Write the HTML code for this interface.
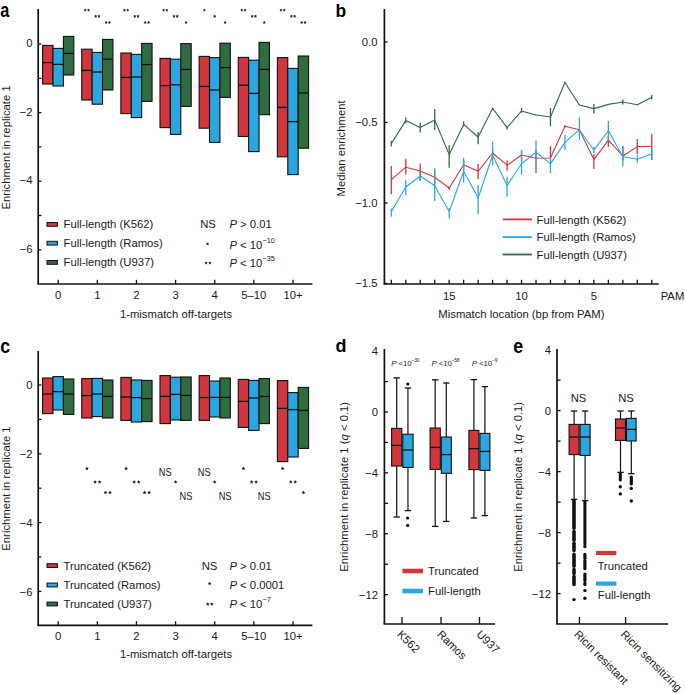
<!DOCTYPE html>
<html><head><meta charset="utf-8"><title>Figure</title>
<style>
html,body{margin:0;padding:0;background:#fff;}
body{width:685px;height:694px;overflow:hidden;}
svg{display:block;font-family:"Liberation Sans", sans-serif;}
</style></head><body>
<svg width="685" height="694" viewBox="0 0 685 694">
<rect width="685" height="694" fill="#fff"/>
<text x="0" y="0" font-size="19.5" font-weight="bold" fill="#000" transform="translate(0.30 16.80) scale(0.84 1)">a</text>
<line x1="38.20" y1="9.00" x2="38.20" y2="284.00" stroke="#111" stroke-width="1.7" stroke-linecap="butt"/>
<line x1="38.20" y1="44.00" x2="41.40" y2="44.00" stroke="#111" stroke-width="1.3" stroke-linecap="butt"/>
<line x1="38.20" y1="78.30" x2="41.40" y2="78.30" stroke="#111" stroke-width="1.3" stroke-linecap="butt"/>
<line x1="38.20" y1="112.60" x2="41.40" y2="112.60" stroke="#111" stroke-width="1.3" stroke-linecap="butt"/>
<line x1="38.20" y1="146.90" x2="41.40" y2="146.90" stroke="#111" stroke-width="1.3" stroke-linecap="butt"/>
<line x1="38.20" y1="181.20" x2="41.40" y2="181.20" stroke="#111" stroke-width="1.3" stroke-linecap="butt"/>
<line x1="38.20" y1="215.50" x2="41.40" y2="215.50" stroke="#111" stroke-width="1.3" stroke-linecap="butt"/>
<line x1="38.20" y1="249.80" x2="41.40" y2="249.80" stroke="#111" stroke-width="1.3" stroke-linecap="butt"/>
<text x="32.50" y="46.95" font-size="11.3" text-anchor="end" font-weight="normal" fill="#1a1a1a"  style="">0</text>
<text x="32.50" y="115.55" font-size="11.3" text-anchor="end" font-weight="normal" fill="#1a1a1a"  style="">&#8722;2</text>
<text x="32.50" y="184.16" font-size="11.3" text-anchor="end" font-weight="normal" fill="#1a1a1a"  style="">&#8722;4</text>
<text x="32.50" y="252.75" font-size="11.3" text-anchor="end" font-weight="normal" fill="#1a1a1a"  style="">&#8722;6</text>
<line x1="37.35" y1="284.00" x2="312.40" y2="284.00" stroke="#111" stroke-width="1.7" stroke-linecap="butt"/>
<line x1="58.20" y1="284.00" x2="58.20" y2="279.80" stroke="#111" stroke-width="1.3" stroke-linecap="butt"/>
<text x="58.20" y="298.75" font-size="11.3" text-anchor="middle" font-weight="normal" fill="#1a1a1a"  style="">0</text>
<line x1="97.33" y1="284.00" x2="97.33" y2="279.80" stroke="#111" stroke-width="1.3" stroke-linecap="butt"/>
<text x="97.33" y="298.75" font-size="11.3" text-anchor="middle" font-weight="normal" fill="#1a1a1a"  style="">1</text>
<line x1="136.46" y1="284.00" x2="136.46" y2="279.80" stroke="#111" stroke-width="1.3" stroke-linecap="butt"/>
<text x="136.46" y="298.75" font-size="11.3" text-anchor="middle" font-weight="normal" fill="#1a1a1a"  style="">2</text>
<line x1="175.59" y1="284.00" x2="175.59" y2="279.80" stroke="#111" stroke-width="1.3" stroke-linecap="butt"/>
<text x="175.59" y="298.75" font-size="11.3" text-anchor="middle" font-weight="normal" fill="#1a1a1a"  style="">3</text>
<line x1="214.72" y1="284.00" x2="214.72" y2="279.80" stroke="#111" stroke-width="1.3" stroke-linecap="butt"/>
<text x="214.72" y="298.75" font-size="11.3" text-anchor="middle" font-weight="normal" fill="#1a1a1a"  style="">4</text>
<line x1="253.85" y1="284.00" x2="253.85" y2="279.80" stroke="#111" stroke-width="1.3" stroke-linecap="butt"/>
<text x="253.85" y="298.75" font-size="11.3" text-anchor="middle" font-weight="normal" fill="#1a1a1a"  style="">5&#8211;10</text>
<line x1="292.98" y1="284.00" x2="292.98" y2="279.80" stroke="#111" stroke-width="1.3" stroke-linecap="butt"/>
<text x="292.98" y="298.75" font-size="11.3" text-anchor="middle" font-weight="normal" fill="#1a1a1a"  style="">10+</text>
<rect x="42.60" y="45.40" width="10.40" height="38.60" fill="#d1363c" stroke="#111" stroke-width="1.1"/>
<line x1="42.60" y1="62.60" x2="53.00" y2="62.60" stroke="#111" stroke-width="1.3" stroke-linecap="butt"/>
<rect x="53.00" y="48.40" width="10.40" height="37.60" fill="#2ba7e0" stroke="#111" stroke-width="1.1"/>
<line x1="53.00" y1="64.40" x2="63.40" y2="64.40" stroke="#111" stroke-width="1.3" stroke-linecap="butt"/>
<rect x="63.40" y="36.40" width="10.40" height="38.60" fill="#2f6c40" stroke="#111" stroke-width="1.1"/>
<line x1="63.40" y1="53.40" x2="73.80" y2="53.40" stroke="#111" stroke-width="1.3" stroke-linecap="butt"/>
<rect x="81.73" y="49.20" width="10.40" height="50.80" fill="#d1363c" stroke="#111" stroke-width="1.1"/>
<line x1="81.73" y1="70.40" x2="92.13" y2="70.40" stroke="#111" stroke-width="1.3" stroke-linecap="butt"/>
<rect x="92.13" y="52.40" width="10.40" height="51.80" fill="#2ba7e0" stroke="#111" stroke-width="1.1"/>
<line x1="92.13" y1="72.00" x2="102.53" y2="72.00" stroke="#111" stroke-width="1.3" stroke-linecap="butt"/>
<rect x="102.53" y="39.40" width="10.40" height="50.60" fill="#2f6c40" stroke="#111" stroke-width="1.1"/>
<line x1="102.53" y1="59.20" x2="112.93" y2="59.20" stroke="#111" stroke-width="1.3" stroke-linecap="butt"/>
<rect x="120.86" y="53.00" width="10.40" height="60.60" fill="#d1363c" stroke="#111" stroke-width="1.1"/>
<line x1="120.86" y1="77.40" x2="131.26" y2="77.40" stroke="#111" stroke-width="1.3" stroke-linecap="butt"/>
<rect x="131.26" y="54.40" width="10.40" height="63.20" fill="#2ba7e0" stroke="#111" stroke-width="1.1"/>
<line x1="131.26" y1="77.00" x2="141.66" y2="77.00" stroke="#111" stroke-width="1.3" stroke-linecap="butt"/>
<rect x="141.66" y="43.40" width="10.40" height="58.00" fill="#2f6c40" stroke="#111" stroke-width="1.1"/>
<line x1="141.66" y1="64.60" x2="152.06" y2="64.60" stroke="#111" stroke-width="1.3" stroke-linecap="butt"/>
<rect x="159.99" y="58.40" width="10.40" height="69.20" fill="#d1363c" stroke="#111" stroke-width="1.1"/>
<line x1="159.99" y1="85.60" x2="170.39" y2="85.60" stroke="#111" stroke-width="1.3" stroke-linecap="butt"/>
<rect x="170.39" y="59.20" width="10.40" height="75.20" fill="#2ba7e0" stroke="#111" stroke-width="1.1"/>
<line x1="170.39" y1="84.80" x2="180.79" y2="84.80" stroke="#111" stroke-width="1.3" stroke-linecap="butt"/>
<rect x="180.79" y="43.60" width="10.40" height="62.80" fill="#2f6c40" stroke="#111" stroke-width="1.1"/>
<line x1="180.79" y1="69.40" x2="191.19" y2="69.40" stroke="#111" stroke-width="1.3" stroke-linecap="butt"/>
<rect x="199.12" y="56.40" width="10.40" height="71.80" fill="#d1363c" stroke="#111" stroke-width="1.1"/>
<line x1="199.12" y1="86.40" x2="209.52" y2="86.40" stroke="#111" stroke-width="1.3" stroke-linecap="butt"/>
<rect x="209.52" y="57.60" width="10.40" height="84.80" fill="#2ba7e0" stroke="#111" stroke-width="1.1"/>
<line x1="209.52" y1="90.00" x2="219.92" y2="90.00" stroke="#111" stroke-width="1.3" stroke-linecap="butt"/>
<rect x="219.92" y="43.20" width="10.40" height="54.20" fill="#2f6c40" stroke="#111" stroke-width="1.1"/>
<line x1="219.92" y1="67.60" x2="230.32" y2="67.60" stroke="#111" stroke-width="1.3" stroke-linecap="butt"/>
<rect x="238.25" y="57.40" width="10.40" height="79.10" fill="#d1363c" stroke="#111" stroke-width="1.1"/>
<line x1="238.25" y1="85.20" x2="248.65" y2="85.20" stroke="#111" stroke-width="1.3" stroke-linecap="butt"/>
<rect x="248.65" y="60.20" width="10.40" height="91.40" fill="#2ba7e0" stroke="#111" stroke-width="1.1"/>
<line x1="248.65" y1="93.40" x2="259.05" y2="93.40" stroke="#111" stroke-width="1.3" stroke-linecap="butt"/>
<rect x="259.05" y="42.40" width="10.40" height="72.30" fill="#2f6c40" stroke="#111" stroke-width="1.1"/>
<line x1="259.05" y1="69.40" x2="269.45" y2="69.40" stroke="#111" stroke-width="1.3" stroke-linecap="butt"/>
<rect x="277.38" y="57.60" width="10.40" height="99.20" fill="#d1363c" stroke="#111" stroke-width="1.1"/>
<line x1="277.38" y1="107.40" x2="287.78" y2="107.40" stroke="#111" stroke-width="1.3" stroke-linecap="butt"/>
<rect x="287.78" y="68.40" width="10.40" height="106.20" fill="#2ba7e0" stroke="#111" stroke-width="1.1"/>
<line x1="287.78" y1="121.60" x2="298.18" y2="121.60" stroke="#111" stroke-width="1.3" stroke-linecap="butt"/>
<rect x="298.18" y="56.00" width="10.40" height="92.20" fill="#2f6c40" stroke="#111" stroke-width="1.1"/>
<line x1="298.18" y1="93.00" x2="308.58" y2="93.00" stroke="#111" stroke-width="1.3" stroke-linecap="butt"/>
<polygon points="85.28,8.40 85.78,9.41 86.90,9.57 86.09,10.36 86.28,11.48 85.28,10.95 84.28,11.48 84.47,10.36 83.66,9.57 84.78,9.41" fill="#222"/>
<polygon points="88.58,8.40 89.08,9.41 90.20,9.57 89.39,10.36 89.58,11.48 88.58,10.95 87.58,11.48 87.77,10.36 86.96,9.57 88.08,9.41" fill="#222"/>
<polygon points="95.68,14.60 96.18,15.61 97.30,15.77 96.49,16.56 96.68,17.68 95.68,17.15 94.68,17.68 94.87,16.56 94.06,15.77 95.18,15.61" fill="#222"/>
<polygon points="98.98,14.60 99.48,15.61 100.60,15.77 99.79,16.56 99.98,17.68 98.98,17.15 97.98,17.68 98.17,16.56 97.36,15.77 98.48,15.61" fill="#222"/>
<polygon points="106.08,20.80 106.58,21.81 107.70,21.97 106.89,22.76 107.08,23.88 106.08,23.35 105.08,23.88 105.27,22.76 104.46,21.97 105.58,21.81" fill="#222"/>
<polygon points="109.38,20.80 109.88,21.81 111.00,21.97 110.19,22.76 110.38,23.88 109.38,23.35 108.38,23.88 108.57,22.76 107.76,21.97 108.88,21.81" fill="#222"/>
<polygon points="124.41,8.40 124.91,9.41 126.03,9.57 125.22,10.36 125.41,11.48 124.41,10.95 123.41,11.48 123.60,10.36 122.79,9.57 123.91,9.41" fill="#222"/>
<polygon points="127.71,8.40 128.21,9.41 129.33,9.57 128.52,10.36 128.71,11.48 127.71,10.95 126.71,11.48 126.90,10.36 126.09,9.57 127.21,9.41" fill="#222"/>
<polygon points="134.81,14.60 135.31,15.61 136.43,15.77 135.62,16.56 135.81,17.68 134.81,17.15 133.81,17.68 134.00,16.56 133.19,15.77 134.31,15.61" fill="#222"/>
<polygon points="138.11,14.60 138.61,15.61 139.73,15.77 138.92,16.56 139.11,17.68 138.11,17.15 137.11,17.68 137.30,16.56 136.49,15.77 137.61,15.61" fill="#222"/>
<polygon points="145.21,20.80 145.71,21.81 146.83,21.97 146.02,22.76 146.21,23.88 145.21,23.35 144.21,23.88 144.40,22.76 143.59,21.97 144.71,21.81" fill="#222"/>
<polygon points="148.51,20.80 149.01,21.81 150.13,21.97 149.32,22.76 149.51,23.88 148.51,23.35 147.51,23.88 147.70,22.76 146.89,21.97 148.01,21.81" fill="#222"/>
<polygon points="163.54,8.40 164.04,9.41 165.16,9.57 164.35,10.36 164.54,11.48 163.54,10.95 162.54,11.48 162.73,10.36 161.92,9.57 163.04,9.41" fill="#222"/>
<polygon points="166.84,8.40 167.34,9.41 168.46,9.57 167.65,10.36 167.84,11.48 166.84,10.95 165.84,11.48 166.03,10.36 165.22,9.57 166.34,9.41" fill="#222"/>
<polygon points="173.94,14.60 174.44,15.61 175.56,15.77 174.75,16.56 174.94,17.68 173.94,17.15 172.94,17.68 173.13,16.56 172.32,15.77 173.44,15.61" fill="#222"/>
<polygon points="177.24,14.60 177.74,15.61 178.86,15.77 178.05,16.56 178.24,17.68 177.24,17.15 176.24,17.68 176.43,16.56 175.62,15.77 176.74,15.61" fill="#222"/>
<polygon points="185.99,20.80 186.49,21.81 187.61,21.97 186.80,22.76 186.99,23.88 185.99,23.35 184.99,23.88 185.18,22.76 184.37,21.97 185.49,21.81" fill="#222"/>
<polygon points="204.32,8.40 204.82,9.41 205.94,9.57 205.13,10.36 205.32,11.48 204.32,10.95 203.32,11.48 203.51,10.36 202.70,9.57 203.82,9.41" fill="#222"/>
<polygon points="214.72,14.60 215.22,15.61 216.34,15.77 215.53,16.56 215.72,17.68 214.72,17.15 213.72,17.68 213.91,16.56 213.10,15.77 214.22,15.61" fill="#222"/>
<polygon points="225.12,20.80 225.62,21.81 226.74,21.97 225.93,22.76 226.12,23.88 225.12,23.35 224.12,23.88 224.31,22.76 223.50,21.97 224.62,21.81" fill="#222"/>
<polygon points="241.80,8.40 242.30,9.41 243.42,9.57 242.61,10.36 242.80,11.48 241.80,10.95 240.80,11.48 240.99,10.36 240.18,9.57 241.30,9.41" fill="#222"/>
<polygon points="245.10,8.40 245.60,9.41 246.72,9.57 245.91,10.36 246.10,11.48 245.10,10.95 244.10,11.48 244.29,10.36 243.48,9.57 244.60,9.41" fill="#222"/>
<polygon points="252.20,14.60 252.70,15.61 253.82,15.77 253.01,16.56 253.20,17.68 252.20,17.15 251.20,17.68 251.39,16.56 250.58,15.77 251.70,15.61" fill="#222"/>
<polygon points="255.50,14.60 256.00,15.61 257.12,15.77 256.31,16.56 256.50,17.68 255.50,17.15 254.50,17.68 254.69,16.56 253.88,15.77 255.00,15.61" fill="#222"/>
<polygon points="264.25,20.80 264.75,21.81 265.87,21.97 265.06,22.76 265.25,23.88 264.25,23.35 263.25,23.88 263.44,22.76 262.63,21.97 263.75,21.81" fill="#222"/>
<polygon points="280.93,8.40 281.43,9.41 282.55,9.57 281.74,10.36 281.93,11.48 280.93,10.95 279.93,11.48 280.12,10.36 279.31,9.57 280.43,9.41" fill="#222"/>
<polygon points="284.23,8.40 284.73,9.41 285.85,9.57 285.04,10.36 285.23,11.48 284.23,10.95 283.23,11.48 283.42,10.36 282.61,9.57 283.73,9.41" fill="#222"/>
<polygon points="291.33,14.60 291.83,15.61 292.95,15.77 292.14,16.56 292.33,17.68 291.33,17.15 290.33,17.68 290.52,16.56 289.71,15.77 290.83,15.61" fill="#222"/>
<polygon points="294.63,14.60 295.13,15.61 296.25,15.77 295.44,16.56 295.63,17.68 294.63,17.15 293.63,17.68 293.82,16.56 293.01,15.77 294.13,15.61" fill="#222"/>
<polygon points="301.73,20.80 302.23,21.81 303.35,21.97 302.54,22.76 302.73,23.88 301.73,23.35 300.73,23.88 300.92,22.76 300.11,21.97 301.23,21.81" fill="#222"/>
<polygon points="305.03,20.80 305.53,21.81 306.65,21.97 305.84,22.76 306.03,23.88 305.03,23.35 304.03,23.88 304.22,22.76 303.41,21.97 304.53,21.81" fill="#222"/>
<rect x="47.00" y="222.50" width="10.40" height="3.80" fill="#d1363c" stroke="#111" stroke-width="1.0"/>
<text x="63.60" y="228.36" font-size="11.3" text-anchor="start" font-weight="normal" fill="#1a1a1a"  style="">Full-length (K562)</text>
<rect x="47.00" y="241.30" width="10.40" height="3.80" fill="#2ba7e0" stroke="#111" stroke-width="1.0"/>
<text x="63.60" y="247.16" font-size="11.3" text-anchor="start" font-weight="normal" fill="#1a1a1a"  style="">Full-length (Ramos)</text>
<rect x="47.00" y="260.50" width="10.40" height="3.80" fill="#2f6c40" stroke="#111" stroke-width="1.0"/>
<text x="63.60" y="266.35" font-size="11.3" text-anchor="start" font-weight="normal" fill="#1a1a1a"  style="">Full-length (U937)</text>
<text x="208.00" y="228.36" font-size="11.3" text-anchor="middle" font-weight="normal" fill="#1a1a1a"  style="">NS</text>
<polygon points="207.60,242.20 208.10,243.31 209.31,243.44 208.41,244.26 208.66,245.46 207.60,244.85 206.54,245.46 206.79,244.26 205.89,243.44 207.10,243.31" fill="#222"/>
<polygon points="206.10,261.20 206.60,262.31 207.81,262.44 206.91,263.26 207.16,264.46 206.10,263.85 205.04,264.46 205.29,263.26 204.39,262.44 205.60,262.31" fill="#222"/>
<polygon points="209.90,261.20 210.40,262.31 211.61,262.44 210.71,263.26 210.96,264.46 209.90,263.85 208.84,264.46 209.09,263.26 208.19,262.44 209.40,262.31" fill="#222"/>
<text x="229.40" y="228.16" font-size="11.3" text-anchor="start" font-weight="normal" fill="#1a1a1a"  style=""><tspan font-style="italic">P</tspan> &gt; 0.01</text>
<text x="229.40" y="249.06" font-size="11.3" text-anchor="start" font-weight="normal" fill="#1a1a1a"  style=""><tspan font-style="italic">P</tspan> &lt; 10<tspan font-size="7.3" dy="-5.7">&#8722;10</tspan></text>
<text x="229.40" y="267.15" font-size="11.3" text-anchor="start" font-weight="normal" fill="#1a1a1a"  style=""><tspan font-style="italic">P</tspan> &lt; 10<tspan font-size="7.3" dy="-5.7">&#8722;35</tspan></text>
<text x="9.60" y="147.45" font-size="11.3" text-anchor="middle" fill="#1a1a1a" transform="rotate(-90 9.60 147.45)">Enrichment in replicate 1</text>
<text x="176.00" y="318.35" font-size="11.3" text-anchor="middle" font-weight="normal" fill="#1a1a1a"  style="">1-mismatch off-targets</text>
<text x="0" y="0" font-size="19.5" font-weight="bold" fill="#000" transform="translate(0.30 353.00) scale(0.91 1)">c</text>
<line x1="38.20" y1="351.00" x2="38.20" y2="625.40" stroke="#111" stroke-width="1.7" stroke-linecap="butt"/>
<line x1="38.20" y1="385.00" x2="41.40" y2="385.00" stroke="#111" stroke-width="1.3" stroke-linecap="butt"/>
<line x1="38.20" y1="419.40" x2="41.40" y2="419.40" stroke="#111" stroke-width="1.3" stroke-linecap="butt"/>
<line x1="38.20" y1="453.80" x2="41.40" y2="453.80" stroke="#111" stroke-width="1.3" stroke-linecap="butt"/>
<line x1="38.20" y1="488.20" x2="41.40" y2="488.20" stroke="#111" stroke-width="1.3" stroke-linecap="butt"/>
<line x1="38.20" y1="522.60" x2="41.40" y2="522.60" stroke="#111" stroke-width="1.3" stroke-linecap="butt"/>
<line x1="38.20" y1="557.00" x2="41.40" y2="557.00" stroke="#111" stroke-width="1.3" stroke-linecap="butt"/>
<line x1="38.20" y1="591.40" x2="41.40" y2="591.40" stroke="#111" stroke-width="1.3" stroke-linecap="butt"/>
<text x="32.50" y="389.15" font-size="11.3" text-anchor="end" font-weight="normal" fill="#1a1a1a"  style="">0</text>
<text x="32.50" y="457.95" font-size="11.3" text-anchor="end" font-weight="normal" fill="#1a1a1a"  style="">&#8722;2</text>
<text x="32.50" y="526.76" font-size="11.3" text-anchor="end" font-weight="normal" fill="#1a1a1a"  style="">&#8722;4</text>
<text x="32.50" y="595.56" font-size="11.3" text-anchor="end" font-weight="normal" fill="#1a1a1a"  style="">&#8722;6</text>
<line x1="37.35" y1="625.40" x2="312.40" y2="625.40" stroke="#111" stroke-width="1.7" stroke-linecap="butt"/>
<line x1="58.20" y1="625.40" x2="58.20" y2="621.20" stroke="#111" stroke-width="1.3" stroke-linecap="butt"/>
<text x="58.20" y="640.15" font-size="11.3" text-anchor="middle" font-weight="normal" fill="#1a1a1a"  style="">0</text>
<line x1="97.33" y1="625.40" x2="97.33" y2="621.20" stroke="#111" stroke-width="1.3" stroke-linecap="butt"/>
<text x="97.33" y="640.15" font-size="11.3" text-anchor="middle" font-weight="normal" fill="#1a1a1a"  style="">1</text>
<line x1="136.46" y1="625.40" x2="136.46" y2="621.20" stroke="#111" stroke-width="1.3" stroke-linecap="butt"/>
<text x="136.46" y="640.15" font-size="11.3" text-anchor="middle" font-weight="normal" fill="#1a1a1a"  style="">2</text>
<line x1="175.59" y1="625.40" x2="175.59" y2="621.20" stroke="#111" stroke-width="1.3" stroke-linecap="butt"/>
<text x="175.59" y="640.15" font-size="11.3" text-anchor="middle" font-weight="normal" fill="#1a1a1a"  style="">3</text>
<line x1="214.72" y1="625.40" x2="214.72" y2="621.20" stroke="#111" stroke-width="1.3" stroke-linecap="butt"/>
<text x="214.72" y="640.15" font-size="11.3" text-anchor="middle" font-weight="normal" fill="#1a1a1a"  style="">4</text>
<line x1="253.85" y1="625.40" x2="253.85" y2="621.20" stroke="#111" stroke-width="1.3" stroke-linecap="butt"/>
<text x="253.85" y="640.15" font-size="11.3" text-anchor="middle" font-weight="normal" fill="#1a1a1a"  style="">5&#8211;10</text>
<line x1="292.98" y1="625.40" x2="292.98" y2="621.20" stroke="#111" stroke-width="1.3" stroke-linecap="butt"/>
<text x="292.98" y="640.15" font-size="11.3" text-anchor="middle" font-weight="normal" fill="#1a1a1a"  style="">10+</text>
<rect x="42.60" y="378.00" width="10.40" height="35.60" fill="#d1363c" stroke="#111" stroke-width="1.1"/>
<line x1="42.60" y1="394.00" x2="53.00" y2="394.00" stroke="#111" stroke-width="1.3" stroke-linecap="butt"/>
<rect x="53.00" y="376.60" width="10.40" height="33.40" fill="#2ba7e0" stroke="#111" stroke-width="1.1"/>
<line x1="53.00" y1="391.60" x2="63.40" y2="391.60" stroke="#111" stroke-width="1.3" stroke-linecap="butt"/>
<rect x="63.40" y="379.00" width="10.40" height="35.40" fill="#2f6c40" stroke="#111" stroke-width="1.1"/>
<line x1="63.40" y1="394.00" x2="73.80" y2="394.00" stroke="#111" stroke-width="1.3" stroke-linecap="butt"/>
<rect x="81.73" y="378.60" width="10.40" height="39.40" fill="#d1363c" stroke="#111" stroke-width="1.1"/>
<line x1="81.73" y1="395.60" x2="92.13" y2="395.60" stroke="#111" stroke-width="1.3" stroke-linecap="butt"/>
<rect x="92.13" y="378.40" width="10.40" height="38.20" fill="#2ba7e0" stroke="#111" stroke-width="1.1"/>
<line x1="92.13" y1="394.00" x2="102.53" y2="394.00" stroke="#111" stroke-width="1.3" stroke-linecap="butt"/>
<rect x="102.53" y="380.00" width="10.40" height="38.00" fill="#2f6c40" stroke="#111" stroke-width="1.1"/>
<line x1="102.53" y1="396.40" x2="112.93" y2="396.40" stroke="#111" stroke-width="1.3" stroke-linecap="butt"/>
<rect x="120.86" y="377.40" width="10.40" height="43.00" fill="#d1363c" stroke="#111" stroke-width="1.1"/>
<line x1="120.86" y1="397.00" x2="131.26" y2="397.00" stroke="#111" stroke-width="1.3" stroke-linecap="butt"/>
<rect x="131.26" y="380.00" width="10.40" height="42.00" fill="#2ba7e0" stroke="#111" stroke-width="1.1"/>
<line x1="131.26" y1="397.60" x2="141.66" y2="397.60" stroke="#111" stroke-width="1.3" stroke-linecap="butt"/>
<rect x="141.66" y="380.40" width="10.40" height="41.20" fill="#2f6c40" stroke="#111" stroke-width="1.1"/>
<line x1="141.66" y1="398.60" x2="152.06" y2="398.60" stroke="#111" stroke-width="1.3" stroke-linecap="butt"/>
<rect x="159.99" y="375.60" width="10.40" height="48.00" fill="#d1363c" stroke="#111" stroke-width="1.1"/>
<line x1="159.99" y1="396.40" x2="170.39" y2="396.40" stroke="#111" stroke-width="1.3" stroke-linecap="butt"/>
<rect x="170.39" y="377.20" width="10.40" height="42.80" fill="#2ba7e0" stroke="#111" stroke-width="1.1"/>
<line x1="170.39" y1="394.40" x2="180.79" y2="394.40" stroke="#111" stroke-width="1.3" stroke-linecap="butt"/>
<rect x="180.79" y="377.00" width="10.40" height="43.40" fill="#2f6c40" stroke="#111" stroke-width="1.1"/>
<line x1="180.79" y1="395.40" x2="191.19" y2="395.40" stroke="#111" stroke-width="1.3" stroke-linecap="butt"/>
<rect x="199.12" y="375.60" width="10.40" height="44.80" fill="#d1363c" stroke="#111" stroke-width="1.1"/>
<line x1="199.12" y1="397.60" x2="209.52" y2="397.60" stroke="#111" stroke-width="1.3" stroke-linecap="butt"/>
<rect x="209.52" y="381.00" width="10.40" height="36.00" fill="#2ba7e0" stroke="#111" stroke-width="1.1"/>
<line x1="209.52" y1="397.40" x2="219.92" y2="397.40" stroke="#111" stroke-width="1.3" stroke-linecap="butt"/>
<rect x="219.92" y="378.00" width="10.40" height="40.00" fill="#2f6c40" stroke="#111" stroke-width="1.1"/>
<line x1="219.92" y1="397.40" x2="230.32" y2="397.40" stroke="#111" stroke-width="1.3" stroke-linecap="butt"/>
<rect x="238.25" y="379.40" width="10.40" height="48.00" fill="#d1363c" stroke="#111" stroke-width="1.1"/>
<line x1="238.25" y1="401.40" x2="248.65" y2="401.40" stroke="#111" stroke-width="1.3" stroke-linecap="butt"/>
<rect x="248.65" y="380.40" width="10.40" height="50.00" fill="#2ba7e0" stroke="#111" stroke-width="1.1"/>
<line x1="248.65" y1="398.00" x2="259.05" y2="398.00" stroke="#111" stroke-width="1.3" stroke-linecap="butt"/>
<rect x="259.05" y="378.60" width="10.40" height="45.00" fill="#2f6c40" stroke="#111" stroke-width="1.1"/>
<line x1="259.05" y1="396.40" x2="269.45" y2="396.40" stroke="#111" stroke-width="1.3" stroke-linecap="butt"/>
<rect x="277.38" y="380.60" width="10.40" height="81.00" fill="#d1363c" stroke="#111" stroke-width="1.1"/>
<line x1="277.38" y1="408.40" x2="287.78" y2="408.40" stroke="#111" stroke-width="1.3" stroke-linecap="butt"/>
<rect x="287.78" y="392.60" width="10.40" height="64.40" fill="#2ba7e0" stroke="#111" stroke-width="1.1"/>
<line x1="287.78" y1="409.60" x2="298.18" y2="409.60" stroke="#111" stroke-width="1.3" stroke-linecap="butt"/>
<rect x="298.18" y="387.40" width="10.40" height="61.00" fill="#2f6c40" stroke="#111" stroke-width="1.1"/>
<line x1="298.18" y1="410.40" x2="308.58" y2="410.40" stroke="#111" stroke-width="1.3" stroke-linecap="butt"/>
<polygon points="86.93,466.60 87.49,467.83 88.83,467.98 87.83,468.89 88.11,470.22 86.93,469.55 85.75,470.22 86.03,468.89 85.03,467.98 86.37,467.83" fill="#222"/>
<polygon points="95.08,480.00 95.64,481.23 96.98,481.38 95.98,482.29 96.26,483.62 95.08,482.95 93.90,483.62 94.18,482.29 93.18,481.38 94.52,481.23" fill="#222"/>
<polygon points="99.58,480.00 100.14,481.23 101.48,481.38 100.48,482.29 100.76,483.62 99.58,482.95 98.40,483.62 98.68,482.29 97.68,481.38 99.02,481.23" fill="#222"/>
<polygon points="105.48,490.60 106.04,491.83 107.38,491.98 106.38,492.89 106.66,494.22 105.48,493.55 104.30,494.22 104.58,492.89 103.58,491.98 104.92,491.83" fill="#222"/>
<polygon points="109.98,490.60 110.54,491.83 111.88,491.98 110.88,492.89 111.16,494.22 109.98,493.55 108.80,494.22 109.08,492.89 108.08,491.98 109.42,491.83" fill="#222"/>
<polygon points="126.06,466.60 126.62,467.83 127.96,467.98 126.96,468.89 127.24,470.22 126.06,469.55 124.88,470.22 125.16,468.89 124.16,467.98 125.50,467.83" fill="#222"/>
<polygon points="134.21,480.00 134.77,481.23 136.11,481.38 135.11,482.29 135.39,483.62 134.21,482.95 133.03,483.62 133.31,482.29 132.31,481.38 133.65,481.23" fill="#222"/>
<polygon points="138.71,480.00 139.27,481.23 140.61,481.38 139.61,482.29 139.89,483.62 138.71,482.95 137.53,483.62 137.81,482.29 136.81,481.38 138.15,481.23" fill="#222"/>
<polygon points="144.61,490.60 145.17,491.83 146.51,491.98 145.51,492.89 145.79,494.22 144.61,493.55 143.43,494.22 143.71,492.89 142.71,491.98 144.05,491.83" fill="#222"/>
<polygon points="149.11,490.60 149.67,491.83 151.01,491.98 150.01,492.89 150.29,494.22 149.11,493.55 147.93,494.22 148.21,492.89 147.21,491.98 148.55,491.83" fill="#222"/>
<text x="165.19" y="476.38" font-size="10.8" text-anchor="middle" font-weight="normal" fill="#1a1a1a" textLength="12.9" lengthAdjust="spacingAndGlyphs" style="">NS</text>
<polygon points="175.59,480.00 176.15,481.23 177.49,481.38 176.49,482.29 176.77,483.62 175.59,482.95 174.41,483.62 174.69,482.29 173.69,481.38 175.03,481.23" fill="#222"/>
<text x="185.99" y="500.38" font-size="10.8" text-anchor="middle" font-weight="normal" fill="#1a1a1a" textLength="12.9" lengthAdjust="spacingAndGlyphs" style="">NS</text>
<text x="204.32" y="476.38" font-size="10.8" text-anchor="middle" font-weight="normal" fill="#1a1a1a" textLength="12.9" lengthAdjust="spacingAndGlyphs" style="">NS</text>
<polygon points="214.72,480.00 215.28,481.23 216.62,481.38 215.62,482.29 215.90,483.62 214.72,482.95 213.54,483.62 213.82,482.29 212.82,481.38 214.16,481.23" fill="#222"/>
<text x="225.12" y="500.38" font-size="10.8" text-anchor="middle" font-weight="normal" fill="#1a1a1a" textLength="12.9" lengthAdjust="spacingAndGlyphs" style="">NS</text>
<polygon points="243.45,466.60 244.01,467.83 245.35,467.98 244.35,468.89 244.63,470.22 243.45,469.55 242.27,470.22 242.55,468.89 241.55,467.98 242.89,467.83" fill="#222"/>
<polygon points="251.60,480.00 252.16,481.23 253.50,481.38 252.50,482.29 252.78,483.62 251.60,482.95 250.42,483.62 250.70,482.29 249.70,481.38 251.04,481.23" fill="#222"/>
<polygon points="256.10,480.00 256.66,481.23 258.00,481.38 257.00,482.29 257.28,483.62 256.10,482.95 254.92,483.62 255.20,482.29 254.20,481.38 255.54,481.23" fill="#222"/>
<text x="264.25" y="500.38" font-size="10.8" text-anchor="middle" font-weight="normal" fill="#1a1a1a" textLength="12.9" lengthAdjust="spacingAndGlyphs" style="">NS</text>
<polygon points="282.58,466.60 283.14,467.83 284.48,467.98 283.48,468.89 283.76,470.22 282.58,469.55 281.40,470.22 281.68,468.89 280.68,467.98 282.02,467.83" fill="#222"/>
<polygon points="290.73,480.00 291.29,481.23 292.63,481.38 291.63,482.29 291.91,483.62 290.73,482.95 289.55,483.62 289.83,482.29 288.83,481.38 290.17,481.23" fill="#222"/>
<polygon points="295.23,480.00 295.79,481.23 297.13,481.38 296.13,482.29 296.41,483.62 295.23,482.95 294.05,483.62 294.33,482.29 293.33,481.38 294.67,481.23" fill="#222"/>
<polygon points="303.38,490.60 303.94,491.83 305.28,491.98 304.28,492.89 304.56,494.22 303.38,493.55 302.20,494.22 302.48,492.89 301.48,491.98 302.82,491.83" fill="#222"/>
<rect x="47.00" y="563.70" width="10.40" height="3.80" fill="#d1363c" stroke="#111" stroke-width="1.0"/>
<text x="63.60" y="569.56" font-size="11.3" text-anchor="start" font-weight="normal" fill="#1a1a1a"  style="">Truncated (K562)</text>
<rect x="47.00" y="583.10" width="10.40" height="3.80" fill="#2ba7e0" stroke="#111" stroke-width="1.0"/>
<text x="63.60" y="588.96" font-size="11.3" text-anchor="start" font-weight="normal" fill="#1a1a1a"  style="">Truncated (Ramos)</text>
<rect x="47.00" y="602.10" width="10.40" height="3.80" fill="#2f6c40" stroke="#111" stroke-width="1.0"/>
<text x="63.60" y="607.96" font-size="11.3" text-anchor="start" font-weight="normal" fill="#1a1a1a"  style="">Truncated (U937)</text>
<text x="209.50" y="569.56" font-size="11.3" text-anchor="middle" font-weight="normal" fill="#1a1a1a"  style="">NS</text>
<polygon points="209.60,581.70 210.13,582.87 211.41,583.01 210.46,583.88 210.72,585.14 209.60,584.50 208.48,585.14 208.74,583.88 207.79,583.01 209.07,582.87" fill="#222"/>
<polygon points="207.80,602.20 208.33,603.37 209.61,603.51 208.66,604.38 208.92,605.64 207.80,605.00 206.68,605.64 206.94,604.38 205.99,603.51 207.27,603.37" fill="#222"/>
<polygon points="211.80,602.20 212.33,603.37 213.61,603.51 212.66,604.38 212.92,605.64 211.80,605.00 210.68,605.64 210.94,604.38 209.99,603.51 211.27,603.37" fill="#222"/>
<text x="229.40" y="569.56" font-size="11.3" text-anchor="start" font-weight="normal" fill="#1a1a1a"  style=""><tspan font-style="italic">P</tspan> &gt; 0.01</text>
<text x="229.40" y="588.96" font-size="11.3" text-anchor="start" font-weight="normal" fill="#1a1a1a"  style=""><tspan font-style="italic">P</tspan> &lt; 0.0001</text>
<text x="229.40" y="607.96" font-size="11.3" text-anchor="start" font-weight="normal" fill="#1a1a1a"  style=""><tspan font-style="italic">P</tspan> &lt; 10<tspan font-size="7.3" dy="-5.7">&#8722;7</tspan></text>
<text x="9.70" y="488.55" font-size="11.3" text-anchor="middle" fill="#1a1a1a" transform="rotate(-90 9.70 488.55)">Enrichment in replicate 1</text>
<text x="176.00" y="658.36" font-size="11.3" text-anchor="middle" font-weight="normal" fill="#1a1a1a"  style="">1-mismatch off-targets</text>
<text x="0" y="0" font-size="18" font-weight="bold" fill="#000" transform="translate(335.50 16.70) scale(0.97 1)">b</text>
<line x1="384.40" y1="9.00" x2="384.40" y2="284.00" stroke="#111" stroke-width="1.7" stroke-linecap="butt"/>
<line x1="383.55" y1="284.00" x2="658.80" y2="284.00" stroke="#111" stroke-width="1.7" stroke-linecap="butt"/>
<line x1="384.40" y1="42.00" x2="387.60" y2="42.00" stroke="#111" stroke-width="1.3" stroke-linecap="butt"/>
<text x="377.50" y="45.95" font-size="11.3" text-anchor="end" font-weight="normal" fill="#1a1a1a"  style="">0.0</text>
<line x1="384.40" y1="122.50" x2="387.60" y2="122.50" stroke="#111" stroke-width="1.3" stroke-linecap="butt"/>
<text x="377.50" y="126.45" font-size="11.3" text-anchor="end" font-weight="normal" fill="#1a1a1a"  style="">&#8722;0.5</text>
<line x1="384.40" y1="203.00" x2="387.60" y2="203.00" stroke="#111" stroke-width="1.3" stroke-linecap="butt"/>
<text x="377.50" y="206.96" font-size="11.3" text-anchor="end" font-weight="normal" fill="#1a1a1a"  style="">&#8722;1.0</text>
<line x1="384.40" y1="283.50" x2="387.60" y2="283.50" stroke="#111" stroke-width="1.3" stroke-linecap="butt"/>
<text x="377.50" y="287.45" font-size="11.3" text-anchor="end" font-weight="normal" fill="#1a1a1a"  style="">&#8722;1.5</text>
<line x1="391.30" y1="284.00" x2="391.30" y2="279.80" stroke="#111" stroke-width="1.3" stroke-linecap="butt"/>
<line x1="405.77" y1="284.00" x2="405.77" y2="279.80" stroke="#111" stroke-width="1.3" stroke-linecap="butt"/>
<line x1="420.24" y1="284.00" x2="420.24" y2="279.80" stroke="#111" stroke-width="1.3" stroke-linecap="butt"/>
<line x1="434.71" y1="284.00" x2="434.71" y2="279.80" stroke="#111" stroke-width="1.3" stroke-linecap="butt"/>
<line x1="449.18" y1="284.00" x2="449.18" y2="279.80" stroke="#111" stroke-width="1.3" stroke-linecap="butt"/>
<line x1="463.65" y1="284.00" x2="463.65" y2="279.80" stroke="#111" stroke-width="1.3" stroke-linecap="butt"/>
<line x1="478.12" y1="284.00" x2="478.12" y2="279.80" stroke="#111" stroke-width="1.3" stroke-linecap="butt"/>
<line x1="492.59" y1="284.00" x2="492.59" y2="279.80" stroke="#111" stroke-width="1.3" stroke-linecap="butt"/>
<line x1="507.06" y1="284.00" x2="507.06" y2="279.80" stroke="#111" stroke-width="1.3" stroke-linecap="butt"/>
<line x1="521.53" y1="284.00" x2="521.53" y2="279.80" stroke="#111" stroke-width="1.3" stroke-linecap="butt"/>
<line x1="536.00" y1="284.00" x2="536.00" y2="279.80" stroke="#111" stroke-width="1.3" stroke-linecap="butt"/>
<line x1="550.47" y1="284.00" x2="550.47" y2="279.80" stroke="#111" stroke-width="1.3" stroke-linecap="butt"/>
<line x1="564.94" y1="284.00" x2="564.94" y2="279.80" stroke="#111" stroke-width="1.3" stroke-linecap="butt"/>
<line x1="579.41" y1="284.00" x2="579.41" y2="279.80" stroke="#111" stroke-width="1.3" stroke-linecap="butt"/>
<line x1="593.88" y1="284.00" x2="593.88" y2="279.80" stroke="#111" stroke-width="1.3" stroke-linecap="butt"/>
<line x1="608.35" y1="284.00" x2="608.35" y2="279.80" stroke="#111" stroke-width="1.3" stroke-linecap="butt"/>
<line x1="622.82" y1="284.00" x2="622.82" y2="279.80" stroke="#111" stroke-width="1.3" stroke-linecap="butt"/>
<line x1="637.29" y1="284.00" x2="637.29" y2="279.80" stroke="#111" stroke-width="1.3" stroke-linecap="butt"/>
<line x1="651.76" y1="284.00" x2="651.76" y2="279.80" stroke="#111" stroke-width="1.3" stroke-linecap="butt"/>
<text x="449.18" y="299.95" font-size="11.3" text-anchor="middle" font-weight="normal" fill="#1a1a1a"  style="">15</text>
<text x="521.53" y="299.95" font-size="11.3" text-anchor="middle" font-weight="normal" fill="#1a1a1a"  style="">10</text>
<text x="593.88" y="299.95" font-size="11.3" text-anchor="middle" font-weight="normal" fill="#1a1a1a"  style="">5</text>
<text x="672.50" y="299.95" font-size="11.3" text-anchor="middle" font-weight="normal" fill="#1a1a1a"  style="">PAM</text>
<text x="521.40" y="318.15" font-size="11.3" text-anchor="middle" font-weight="normal" fill="#1a1a1a"  style="">Mismatch location (bp from PAM)</text>
<text x="344.60" y="148.35" font-size="11.3" text-anchor="middle" fill="#1a1a1a" transform="rotate(-90 344.60 148.35)">Median enrichment</text>
<line x1="391.30" y1="141.00" x2="391.30" y2="146.50" stroke="#2f6c40" stroke-width="1.3" stroke-linecap="butt"/>
<line x1="405.77" y1="117.60" x2="405.77" y2="123.60" stroke="#2f6c40" stroke-width="1.3" stroke-linecap="butt"/>
<line x1="420.24" y1="123.00" x2="420.24" y2="132.40" stroke="#2f6c40" stroke-width="1.3" stroke-linecap="butt"/>
<line x1="434.71" y1="109.00" x2="434.71" y2="130.00" stroke="#2f6c40" stroke-width="1.3" stroke-linecap="butt"/>
<line x1="449.18" y1="145.20" x2="449.18" y2="167.70" stroke="#2f6c40" stroke-width="1.3" stroke-linecap="butt"/>
<line x1="463.65" y1="121.40" x2="463.65" y2="126.40" stroke="#2f6c40" stroke-width="1.3" stroke-linecap="butt"/>
<line x1="478.12" y1="132.00" x2="478.12" y2="144.30" stroke="#2f6c40" stroke-width="1.3" stroke-linecap="butt"/>
<line x1="492.59" y1="107.80" x2="492.59" y2="109.00" stroke="#2f6c40" stroke-width="1.3" stroke-linecap="butt"/>
<line x1="507.06" y1="126.40" x2="507.06" y2="129.60" stroke="#2f6c40" stroke-width="1.3" stroke-linecap="butt"/>
<line x1="521.53" y1="108.00" x2="521.53" y2="112.80" stroke="#2f6c40" stroke-width="1.3" stroke-linecap="butt"/>
<line x1="536.00" y1="114.60" x2="536.00" y2="115.40" stroke="#2f6c40" stroke-width="1.3" stroke-linecap="butt"/>
<line x1="550.47" y1="108.00" x2="550.47" y2="126.30" stroke="#2f6c40" stroke-width="1.3" stroke-linecap="butt"/>
<line x1="564.94" y1="81.50" x2="564.94" y2="83.50" stroke="#2f6c40" stroke-width="1.3" stroke-linecap="butt"/>
<line x1="579.41" y1="104.60" x2="579.41" y2="105.40" stroke="#2f6c40" stroke-width="1.3" stroke-linecap="butt"/>
<line x1="593.88" y1="104.00" x2="593.88" y2="113.60" stroke="#2f6c40" stroke-width="1.3" stroke-linecap="butt"/>
<line x1="608.35" y1="104.00" x2="608.35" y2="104.80" stroke="#2f6c40" stroke-width="1.3" stroke-linecap="butt"/>
<line x1="622.82" y1="99.60" x2="622.82" y2="104.40" stroke="#2f6c40" stroke-width="1.3" stroke-linecap="butt"/>
<line x1="637.29" y1="104.40" x2="637.29" y2="105.20" stroke="#2f6c40" stroke-width="1.3" stroke-linecap="butt"/>
<line x1="651.76" y1="95.00" x2="651.76" y2="99.60" stroke="#2f6c40" stroke-width="1.3" stroke-linecap="butt"/>
<polyline points="391.3,143.6 405.8,120.6 420.2,127.4 434.7,120.0 449.2,154.6 463.7,124.4 478.1,137.0 492.6,108.4 507.1,127.6 521.5,111.0 536.0,115.0 550.5,117.0 564.9,82.5 579.4,105.0 593.9,108.6 608.4,104.4 622.8,102.0 637.3,104.8 651.8,97.2" fill="none" stroke="#2f6c40" stroke-width="1.1" stroke-linejoin="round"/>
<line x1="391.30" y1="166.00" x2="391.30" y2="194.20" stroke="#d1363c" stroke-width="1.3" stroke-linecap="butt"/>
<line x1="405.77" y1="159.00" x2="405.77" y2="174.60" stroke="#d1363c" stroke-width="1.3" stroke-linecap="butt"/>
<line x1="420.24" y1="163.60" x2="420.24" y2="181.00" stroke="#d1363c" stroke-width="1.3" stroke-linecap="butt"/>
<line x1="434.71" y1="170.00" x2="434.71" y2="185.00" stroke="#d1363c" stroke-width="1.3" stroke-linecap="butt"/>
<line x1="449.18" y1="186.50" x2="449.18" y2="190.00" stroke="#d1363c" stroke-width="1.3" stroke-linecap="butt"/>
<line x1="463.65" y1="160.00" x2="463.65" y2="170.00" stroke="#d1363c" stroke-width="1.3" stroke-linecap="butt"/>
<line x1="478.12" y1="164.00" x2="478.12" y2="179.30" stroke="#d1363c" stroke-width="1.3" stroke-linecap="butt"/>
<line x1="492.59" y1="149.00" x2="492.59" y2="157.00" stroke="#d1363c" stroke-width="1.3" stroke-linecap="butt"/>
<line x1="507.06" y1="160.50" x2="507.06" y2="170.80" stroke="#d1363c" stroke-width="1.3" stroke-linecap="butt"/>
<line x1="521.53" y1="150.00" x2="521.53" y2="160.00" stroke="#d1363c" stroke-width="1.3" stroke-linecap="butt"/>
<line x1="536.00" y1="150.00" x2="536.00" y2="173.00" stroke="#d1363c" stroke-width="1.3" stroke-linecap="butt"/>
<line x1="550.47" y1="146.00" x2="550.47" y2="158.00" stroke="#d1363c" stroke-width="1.3" stroke-linecap="butt"/>
<line x1="564.94" y1="125.20" x2="564.94" y2="127.40" stroke="#d1363c" stroke-width="1.3" stroke-linecap="butt"/>
<line x1="579.41" y1="127.00" x2="579.41" y2="132.00" stroke="#d1363c" stroke-width="1.3" stroke-linecap="butt"/>
<line x1="593.88" y1="154.00" x2="593.88" y2="169.00" stroke="#d1363c" stroke-width="1.3" stroke-linecap="butt"/>
<line x1="608.35" y1="136.00" x2="608.35" y2="147.00" stroke="#d1363c" stroke-width="1.3" stroke-linecap="butt"/>
<line x1="622.82" y1="146.00" x2="622.82" y2="160.00" stroke="#d1363c" stroke-width="1.3" stroke-linecap="butt"/>
<line x1="637.29" y1="139.00" x2="637.29" y2="154.00" stroke="#d1363c" stroke-width="1.3" stroke-linecap="butt"/>
<line x1="651.76" y1="134.00" x2="651.76" y2="160.00" stroke="#d1363c" stroke-width="1.3" stroke-linecap="butt"/>
<polyline points="391.3,179.6 405.8,167.2 420.2,171.0 434.7,177.3 449.2,188.0 463.7,164.8 478.1,171.3 492.6,153.0 507.1,165.2 521.5,155.0 536.0,158.3 550.5,158.0 564.9,126.3 579.4,129.7 593.9,159.6 608.4,140.2 622.8,156.0 637.3,146.6 651.8,146.3" fill="none" stroke="#d1363c" stroke-width="1.1" stroke-linejoin="round"/>
<line x1="391.30" y1="208.60" x2="391.30" y2="216.70" stroke="#2ba7e0" stroke-width="1.3" stroke-linecap="butt"/>
<line x1="405.77" y1="179.80" x2="405.77" y2="195.10" stroke="#2ba7e0" stroke-width="1.3" stroke-linecap="butt"/>
<line x1="420.24" y1="172.30" x2="420.24" y2="181.00" stroke="#2ba7e0" stroke-width="1.3" stroke-linecap="butt"/>
<line x1="434.71" y1="168.30" x2="434.71" y2="201.10" stroke="#2ba7e0" stroke-width="1.3" stroke-linecap="butt"/>
<line x1="449.18" y1="208.00" x2="449.18" y2="218.40" stroke="#2ba7e0" stroke-width="1.3" stroke-linecap="butt"/>
<line x1="463.65" y1="158.00" x2="463.65" y2="182.50" stroke="#2ba7e0" stroke-width="1.3" stroke-linecap="butt"/>
<line x1="478.12" y1="185.00" x2="478.12" y2="214.30" stroke="#2ba7e0" stroke-width="1.3" stroke-linecap="butt"/>
<line x1="492.59" y1="141.70" x2="492.59" y2="165.60" stroke="#2ba7e0" stroke-width="1.3" stroke-linecap="butt"/>
<line x1="507.06" y1="176.70" x2="507.06" y2="196.80" stroke="#2ba7e0" stroke-width="1.3" stroke-linecap="butt"/>
<line x1="521.53" y1="150.00" x2="521.53" y2="174.70" stroke="#2ba7e0" stroke-width="1.3" stroke-linecap="butt"/>
<line x1="536.00" y1="140.60" x2="536.00" y2="163.60" stroke="#2ba7e0" stroke-width="1.3" stroke-linecap="butt"/>
<line x1="550.47" y1="158.00" x2="550.47" y2="173.00" stroke="#2ba7e0" stroke-width="1.3" stroke-linecap="butt"/>
<line x1="564.94" y1="135.00" x2="564.94" y2="150.00" stroke="#2ba7e0" stroke-width="1.3" stroke-linecap="butt"/>
<line x1="579.41" y1="117.30" x2="579.41" y2="139.80" stroke="#2ba7e0" stroke-width="1.3" stroke-linecap="butt"/>
<line x1="593.88" y1="147.00" x2="593.88" y2="153.00" stroke="#2ba7e0" stroke-width="1.3" stroke-linecap="butt"/>
<line x1="608.35" y1="121.00" x2="608.35" y2="140.00" stroke="#2ba7e0" stroke-width="1.3" stroke-linecap="butt"/>
<line x1="622.82" y1="146.00" x2="622.82" y2="166.40" stroke="#2ba7e0" stroke-width="1.3" stroke-linecap="butt"/>
<line x1="637.29" y1="155.00" x2="637.29" y2="163.00" stroke="#2ba7e0" stroke-width="1.3" stroke-linecap="butt"/>
<line x1="651.76" y1="148.00" x2="651.76" y2="160.00" stroke="#2ba7e0" stroke-width="1.3" stroke-linecap="butt"/>
<polyline points="391.3,211.6 405.8,187.0 420.2,176.0 434.7,185.7 449.2,211.5 463.7,171.2 478.1,198.0 492.6,155.2 507.1,185.6 521.5,163.8 536.0,152.2 550.5,163.6 564.9,142.4 579.4,129.7 593.9,150.2 608.4,130.5 622.8,156.8 637.3,159.2 651.8,153.8" fill="none" stroke="#2ba7e0" stroke-width="1.1" stroke-linejoin="round"/>
<line x1="502.70" y1="219.40" x2="531.90" y2="219.40" stroke="#d1363c" stroke-width="1.8" stroke-linecap="butt"/>
<text x="536.50" y="223.66" font-size="11.3" text-anchor="start" font-weight="normal" fill="#1a1a1a"  style="">Full-length (K562)</text>
<line x1="502.70" y1="237.00" x2="531.90" y2="237.00" stroke="#2ba7e0" stroke-width="1.8" stroke-linecap="butt"/>
<text x="536.50" y="241.26" font-size="11.3" text-anchor="start" font-weight="normal" fill="#1a1a1a"  style="">Full-length (Ramos)</text>
<line x1="502.70" y1="254.50" x2="531.90" y2="254.50" stroke="#2f6c40" stroke-width="1.8" stroke-linecap="butt"/>
<text x="536.50" y="258.75" font-size="11.3" text-anchor="start" font-weight="normal" fill="#1a1a1a"  style="">Full-length (U937)</text>
<text x="0" y="0" font-size="18" font-weight="bold" fill="#000" transform="translate(335.40 352.10) scale(1.0 1)">d</text>
<line x1="384.40" y1="349.00" x2="384.40" y2="624.00" stroke="#111" stroke-width="1.7" stroke-linecap="butt"/>
<line x1="383.55" y1="624.00" x2="495.00" y2="624.00" stroke="#111" stroke-width="1.7" stroke-linecap="butt"/>
<line x1="384.40" y1="381.56" x2="388.00" y2="381.56" stroke="#111" stroke-width="1.3" stroke-linecap="butt"/>
<line x1="384.40" y1="412.00" x2="388.00" y2="412.00" stroke="#111" stroke-width="1.3" stroke-linecap="butt"/>
<line x1="384.40" y1="442.44" x2="388.00" y2="442.44" stroke="#111" stroke-width="1.3" stroke-linecap="butt"/>
<line x1="384.40" y1="472.88" x2="388.00" y2="472.88" stroke="#111" stroke-width="1.3" stroke-linecap="butt"/>
<line x1="384.40" y1="503.32" x2="388.00" y2="503.32" stroke="#111" stroke-width="1.3" stroke-linecap="butt"/>
<line x1="384.40" y1="533.76" x2="388.00" y2="533.76" stroke="#111" stroke-width="1.3" stroke-linecap="butt"/>
<line x1="384.40" y1="564.20" x2="388.00" y2="564.20" stroke="#111" stroke-width="1.3" stroke-linecap="butt"/>
<line x1="384.40" y1="594.64" x2="388.00" y2="594.64" stroke="#111" stroke-width="1.3" stroke-linecap="butt"/>
<text x="378.00" y="355.07" font-size="11.3" text-anchor="end" font-weight="normal" fill="#1a1a1a"  style="">4</text>
<text x="378.00" y="415.95" font-size="11.3" text-anchor="end" font-weight="normal" fill="#1a1a1a"  style="">0</text>
<text x="378.00" y="476.83" font-size="11.3" text-anchor="end" font-weight="normal" fill="#1a1a1a"  style="">&#8722;4</text>
<text x="378.00" y="537.72" font-size="11.3" text-anchor="end" font-weight="normal" fill="#1a1a1a"  style="">&#8722;8</text>
<text x="378.00" y="598.60" font-size="11.3" text-anchor="end" font-weight="normal" fill="#1a1a1a"  style="">&#8722;12</text>
<line x1="402.00" y1="624.00" x2="402.00" y2="617.00" stroke="#111" stroke-width="1.3" stroke-linecap="butt"/>
<line x1="441.00" y1="624.00" x2="441.00" y2="617.00" stroke="#111" stroke-width="1.3" stroke-linecap="butt"/>
<line x1="479.50" y1="624.00" x2="479.50" y2="617.00" stroke="#111" stroke-width="1.3" stroke-linecap="butt"/>
<line x1="396.70" y1="377.90" x2="396.70" y2="428.40" stroke="#111" stroke-width="1.2" stroke-linecap="butt"/>
<line x1="396.70" y1="466.00" x2="396.70" y2="517.00" stroke="#111" stroke-width="1.2" stroke-linecap="butt"/>
<line x1="393.50" y1="377.90" x2="399.90" y2="377.90" stroke="#111" stroke-width="1.3" stroke-linecap="butt"/>
<line x1="393.50" y1="517.00" x2="399.90" y2="517.00" stroke="#111" stroke-width="1.3" stroke-linecap="butt"/>
<rect x="391.60" y="428.40" width="10.20" height="37.60" fill="#d1363c" stroke="#111" stroke-width="1.1"/>
<line x1="391.60" y1="445.40" x2="401.80" y2="445.40" stroke="#111" stroke-width="1.3" stroke-linecap="butt"/>
<line x1="407.95" y1="388.00" x2="407.95" y2="434.20" stroke="#111" stroke-width="1.2" stroke-linecap="butt"/>
<line x1="407.95" y1="467.40" x2="407.95" y2="510.60" stroke="#111" stroke-width="1.2" stroke-linecap="butt"/>
<line x1="404.75" y1="388.00" x2="411.15" y2="388.00" stroke="#111" stroke-width="1.3" stroke-linecap="butt"/>
<line x1="404.75" y1="510.60" x2="411.15" y2="510.60" stroke="#111" stroke-width="1.3" stroke-linecap="butt"/>
<rect x="402.80" y="434.20" width="10.30" height="33.20" fill="#2ba7e0" stroke="#111" stroke-width="1.1"/>
<line x1="402.80" y1="450.00" x2="413.10" y2="450.00" stroke="#111" stroke-width="1.3" stroke-linecap="butt"/>
<line x1="435.20" y1="379.80" x2="435.20" y2="428.00" stroke="#111" stroke-width="1.2" stroke-linecap="butt"/>
<line x1="435.20" y1="469.40" x2="435.20" y2="526.40" stroke="#111" stroke-width="1.2" stroke-linecap="butt"/>
<line x1="432.00" y1="379.80" x2="438.40" y2="379.80" stroke="#111" stroke-width="1.3" stroke-linecap="butt"/>
<line x1="432.00" y1="526.40" x2="438.40" y2="526.40" stroke="#111" stroke-width="1.3" stroke-linecap="butt"/>
<rect x="430.10" y="428.00" width="10.20" height="41.40" fill="#d1363c" stroke="#111" stroke-width="1.1"/>
<line x1="430.10" y1="447.40" x2="440.30" y2="447.40" stroke="#111" stroke-width="1.3" stroke-linecap="butt"/>
<line x1="446.30" y1="383.00" x2="446.30" y2="437.00" stroke="#111" stroke-width="1.2" stroke-linecap="butt"/>
<line x1="446.30" y1="473.30" x2="446.30" y2="521.40" stroke="#111" stroke-width="1.2" stroke-linecap="butt"/>
<line x1="443.10" y1="383.00" x2="449.50" y2="383.00" stroke="#111" stroke-width="1.3" stroke-linecap="butt"/>
<line x1="443.10" y1="521.40" x2="449.50" y2="521.40" stroke="#111" stroke-width="1.3" stroke-linecap="butt"/>
<rect x="441.30" y="437.00" width="10.00" height="36.30" fill="#2ba7e0" stroke="#111" stroke-width="1.1"/>
<line x1="441.30" y1="454.60" x2="451.30" y2="454.60" stroke="#111" stroke-width="1.3" stroke-linecap="butt"/>
<line x1="473.90" y1="379.60" x2="473.90" y2="430.40" stroke="#111" stroke-width="1.2" stroke-linecap="butt"/>
<line x1="473.90" y1="469.60" x2="473.90" y2="518.00" stroke="#111" stroke-width="1.2" stroke-linecap="butt"/>
<line x1="470.70" y1="379.60" x2="477.10" y2="379.60" stroke="#111" stroke-width="1.3" stroke-linecap="butt"/>
<line x1="470.70" y1="518.00" x2="477.10" y2="518.00" stroke="#111" stroke-width="1.3" stroke-linecap="butt"/>
<rect x="468.90" y="430.40" width="10.00" height="39.20" fill="#d1363c" stroke="#111" stroke-width="1.1"/>
<line x1="468.90" y1="448.60" x2="478.90" y2="448.60" stroke="#111" stroke-width="1.3" stroke-linecap="butt"/>
<line x1="484.90" y1="386.60" x2="484.90" y2="433.40" stroke="#111" stroke-width="1.2" stroke-linecap="butt"/>
<line x1="484.90" y1="470.40" x2="484.90" y2="515.60" stroke="#111" stroke-width="1.2" stroke-linecap="butt"/>
<line x1="481.70" y1="386.60" x2="488.10" y2="386.60" stroke="#111" stroke-width="1.3" stroke-linecap="butt"/>
<line x1="481.70" y1="515.60" x2="488.10" y2="515.60" stroke="#111" stroke-width="1.3" stroke-linecap="butt"/>
<rect x="479.90" y="433.40" width="10.00" height="37.00" fill="#2ba7e0" stroke="#111" stroke-width="1.1"/>
<line x1="479.90" y1="451.40" x2="489.90" y2="451.40" stroke="#111" stroke-width="1.3" stroke-linecap="butt"/>
<circle cx="407.80" cy="384.00" r="1.6" fill="#111"/>
<circle cx="407.60" cy="518.00" r="1.6" fill="#111"/>
<circle cx="407.60" cy="525.40" r="1.6" fill="#111"/>
<text x="391.20" y="365.80" font-size="7.9" text-anchor="start" font-weight="normal" fill="#222"  style="letter-spacing:-0.1px"><tspan font-style="italic">P</tspan> &lt;10<tspan font-size="5.0" dy="-3.9" style="letter-spacing:-0.3px">&#8722;30</tspan></text>
<text x="431.40" y="365.80" font-size="7.9" text-anchor="start" font-weight="normal" fill="#222"  style="letter-spacing:-0.1px"><tspan font-style="italic">P</tspan> &lt;10<tspan font-size="5.0" dy="-3.9" style="letter-spacing:-0.3px">&#8722;58</tspan></text>
<text x="471.80" y="365.80" font-size="7.9" text-anchor="start" font-weight="normal" fill="#222"  style="letter-spacing:-0.1px"><tspan font-style="italic">P</tspan> &lt;10<tspan font-size="5.0" dy="-3.9" style="letter-spacing:-0.3px">&#8722;9</tspan></text>
<line x1="402.40" y1="571.00" x2="423.00" y2="571.00" stroke="#d1363c" stroke-width="4.6" stroke-linecap="butt"/>
<line x1="402.40" y1="591.00" x2="423.00" y2="591.00" stroke="#2ba7e0" stroke-width="4.6" stroke-linecap="butt"/>
<text x="428.00" y="575.46" font-size="11.3" text-anchor="start" font-weight="normal" fill="#1a1a1a"  style="">Truncated</text>
<text x="428.00" y="595.36" font-size="11.3" text-anchor="start" font-weight="normal" fill="#1a1a1a"  style="">Full-length</text>
<text x="348.40" y="486.80" font-size="11.3" text-anchor="middle" fill="#1a1a1a" transform="rotate(-90 348.40 486.80)">Enrichment in replicate 1 (<tspan font-style="italic">q</tspan> &lt; 0.1)</text>
<text x="396.5" y="635.0" font-size="11.3" fill="#1a1a1a" transform="rotate(45 396.5 635.0)">K562</text>
<text x="436.6" y="635.0" font-size="11.3" fill="#1a1a1a" transform="rotate(45 436.6 635.0)">Ramos</text>
<text x="475.8" y="635.0" font-size="11.3" fill="#1a1a1a" transform="rotate(45 475.8 635.0)">U937</text>
<text x="0" y="0" font-size="19.5" font-weight="bold" fill="#000" transform="translate(513.30 352.70) scale(0.91 1)">e</text>
<line x1="557.00" y1="349.00" x2="557.00" y2="624.00" stroke="#111" stroke-width="1.7" stroke-linecap="butt"/>
<line x1="556.15" y1="624.00" x2="668.00" y2="624.00" stroke="#111" stroke-width="1.7" stroke-linecap="butt"/>
<line x1="557.00" y1="380.10" x2="560.60" y2="380.10" stroke="#111" stroke-width="1.3" stroke-linecap="butt"/>
<line x1="557.00" y1="410.60" x2="560.60" y2="410.60" stroke="#111" stroke-width="1.3" stroke-linecap="butt"/>
<line x1="557.00" y1="441.10" x2="560.60" y2="441.10" stroke="#111" stroke-width="1.3" stroke-linecap="butt"/>
<line x1="557.00" y1="471.60" x2="560.60" y2="471.60" stroke="#111" stroke-width="1.3" stroke-linecap="butt"/>
<line x1="557.00" y1="502.10" x2="560.60" y2="502.10" stroke="#111" stroke-width="1.3" stroke-linecap="butt"/>
<line x1="557.00" y1="532.60" x2="560.60" y2="532.60" stroke="#111" stroke-width="1.3" stroke-linecap="butt"/>
<line x1="557.00" y1="563.10" x2="560.60" y2="563.10" stroke="#111" stroke-width="1.3" stroke-linecap="butt"/>
<line x1="557.00" y1="593.60" x2="560.60" y2="593.60" stroke="#111" stroke-width="1.3" stroke-linecap="butt"/>
<text x="551.00" y="353.56" font-size="11.3" text-anchor="end" font-weight="normal" fill="#1a1a1a"  style="">4</text>
<text x="551.00" y="414.56" font-size="11.3" text-anchor="end" font-weight="normal" fill="#1a1a1a"  style="">0</text>
<text x="551.00" y="475.56" font-size="11.3" text-anchor="end" font-weight="normal" fill="#1a1a1a"  style="">&#8722;4</text>
<text x="551.00" y="536.56" font-size="11.3" text-anchor="end" font-weight="normal" fill="#1a1a1a"  style="">&#8722;8</text>
<text x="551.00" y="597.56" font-size="11.3" text-anchor="end" font-weight="normal" fill="#1a1a1a"  style="">&#8722;12</text>
<line x1="579.40" y1="624.00" x2="579.40" y2="617.00" stroke="#111" stroke-width="1.3" stroke-linecap="butt"/>
<line x1="625.60" y1="624.00" x2="625.60" y2="617.00" stroke="#111" stroke-width="1.3" stroke-linecap="butt"/>
<line x1="574.00" y1="500.50" x2="574.00" y2="528.30" stroke="#111" stroke-width="3.6" stroke-linecap="round"/>
<line x1="574.00" y1="531.50" x2="574.00" y2="540.20" stroke="#111" stroke-width="3.6" stroke-linecap="round"/>
<line x1="574.00" y1="543.30" x2="574.00" y2="550.50" stroke="#111" stroke-width="3.6" stroke-linecap="round"/>
<line x1="574.00" y1="554.40" x2="574.00" y2="566.20" stroke="#111" stroke-width="3.6" stroke-linecap="round"/>
<line x1="574.00" y1="569.50" x2="574.00" y2="573.40" stroke="#111" stroke-width="3.6" stroke-linecap="round"/>
<line x1="574.00" y1="576.60" x2="574.00" y2="584.50" stroke="#111" stroke-width="3.6" stroke-linecap="round"/>
<circle cx="574.00" cy="599.60" r="1.7" fill="#111"/>
<line x1="584.90" y1="501.50" x2="584.90" y2="544.10" stroke="#111" stroke-width="3.0" stroke-linecap="round"/>
<circle cx="584.90" cy="546.50" r="1.7" fill="#111"/>
<line x1="584.90" y1="554.40" x2="584.90" y2="558.40" stroke="#111" stroke-width="3.2" stroke-linecap="round"/>
<line x1="584.90" y1="560.80" x2="584.90" y2="568.70" stroke="#111" stroke-width="3.2" stroke-linecap="round"/>
<line x1="584.90" y1="574.20" x2="584.90" y2="580.60" stroke="#111" stroke-width="3.2" stroke-linecap="round"/>
<line x1="584.90" y1="583.00" x2="584.90" y2="584.50" stroke="#111" stroke-width="3.2" stroke-linecap="round"/>
<circle cx="584.90" cy="590.60" r="1.7" fill="#111"/>
<circle cx="584.90" cy="598.30" r="1.7" fill="#111"/>
<line x1="620.30" y1="473.00" x2="620.30" y2="480.00" stroke="#111" stroke-width="3.0" stroke-linecap="round"/>
<circle cx="620.30" cy="486.80" r="1.7" fill="#111"/>
<circle cx="620.30" cy="493.90" r="1.7" fill="#111"/>
<line x1="631.30" y1="477.00" x2="631.30" y2="484.00" stroke="#111" stroke-width="3.2" stroke-linecap="round"/>
<circle cx="631.30" cy="488.40" r="1.7" fill="#111"/>
<circle cx="631.30" cy="501.00" r="1.7" fill="#111"/>
<line x1="574.10" y1="411.00" x2="574.10" y2="424.40" stroke="#111" stroke-width="1.2" stroke-linecap="butt"/>
<line x1="574.10" y1="454.60" x2="574.10" y2="499.40" stroke="#111" stroke-width="1.2" stroke-linecap="butt"/>
<line x1="570.90" y1="411.00" x2="577.30" y2="411.00" stroke="#111" stroke-width="1.3" stroke-linecap="butt"/>
<line x1="570.90" y1="499.40" x2="577.30" y2="499.40" stroke="#111" stroke-width="1.3" stroke-linecap="butt"/>
<rect x="569.10" y="424.40" width="10.00" height="30.20" fill="#d1363c" stroke="#111" stroke-width="1.1"/>
<line x1="569.10" y1="437.00" x2="579.10" y2="437.00" stroke="#111" stroke-width="1.3" stroke-linecap="butt"/>
<line x1="585.10" y1="411.00" x2="585.10" y2="424.40" stroke="#111" stroke-width="1.2" stroke-linecap="butt"/>
<line x1="585.10" y1="455.40" x2="585.10" y2="500.60" stroke="#111" stroke-width="1.2" stroke-linecap="butt"/>
<line x1="581.90" y1="411.00" x2="588.30" y2="411.00" stroke="#111" stroke-width="1.3" stroke-linecap="butt"/>
<line x1="581.90" y1="500.60" x2="588.30" y2="500.60" stroke="#111" stroke-width="1.3" stroke-linecap="butt"/>
<rect x="580.10" y="424.40" width="10.00" height="31.00" fill="#2ba7e0" stroke="#111" stroke-width="1.1"/>
<line x1="580.10" y1="437.00" x2="590.10" y2="437.00" stroke="#111" stroke-width="1.3" stroke-linecap="butt"/>
<line x1="620.50" y1="411.00" x2="620.50" y2="419.00" stroke="#111" stroke-width="1.2" stroke-linecap="butt"/>
<line x1="620.50" y1="440.40" x2="620.50" y2="472.40" stroke="#111" stroke-width="1.2" stroke-linecap="butt"/>
<line x1="617.30" y1="411.00" x2="623.70" y2="411.00" stroke="#111" stroke-width="1.3" stroke-linecap="butt"/>
<line x1="617.30" y1="472.40" x2="623.70" y2="472.40" stroke="#111" stroke-width="1.3" stroke-linecap="butt"/>
<rect x="615.50" y="419.00" width="10.00" height="21.40" fill="#d1363c" stroke="#111" stroke-width="1.1"/>
<line x1="615.50" y1="428.00" x2="625.50" y2="428.00" stroke="#111" stroke-width="1.3" stroke-linecap="butt"/>
<line x1="631.30" y1="411.00" x2="631.30" y2="418.40" stroke="#111" stroke-width="1.2" stroke-linecap="butt"/>
<line x1="631.30" y1="441.00" x2="631.30" y2="473.60" stroke="#111" stroke-width="1.2" stroke-linecap="butt"/>
<line x1="628.10" y1="411.00" x2="634.50" y2="411.00" stroke="#111" stroke-width="1.3" stroke-linecap="butt"/>
<line x1="628.10" y1="473.60" x2="634.50" y2="473.60" stroke="#111" stroke-width="1.3" stroke-linecap="butt"/>
<rect x="626.50" y="418.40" width="9.60" height="22.60" fill="#2ba7e0" stroke="#111" stroke-width="1.1"/>
<line x1="626.50" y1="429.40" x2="636.10" y2="429.40" stroke="#111" stroke-width="1.3" stroke-linecap="butt"/>
<text x="578.50" y="401.56" font-size="11.3" text-anchor="middle" font-weight="normal" fill="#1a1a1a"  style="">NS</text>
<text x="626.00" y="402.35" font-size="11.3" text-anchor="middle" font-weight="normal" fill="#1a1a1a"  style="">NS</text>
<line x1="596.00" y1="553.00" x2="616.40" y2="553.00" stroke="#d1363c" stroke-width="4.2" stroke-linecap="butt"/>
<line x1="596.00" y1="583.60" x2="616.40" y2="583.60" stroke="#2ba7e0" stroke-width="4.2" stroke-linecap="butt"/>
<text x="597.40" y="569.56" font-size="11.3" text-anchor="start" font-weight="normal" fill="#1a1a1a"  style="">Truncated</text>
<text x="597.80" y="598.96" font-size="11.3" text-anchor="start" font-weight="normal" fill="#1a1a1a"  style="">Full-length</text>
<text x="522.50" y="486.80" font-size="11.3" text-anchor="middle" fill="#1a1a1a" transform="rotate(-90 522.50 486.80)">Enrichment in replicate 1 (<tspan font-style="italic">q</tspan> &lt; 0.1)</text>
<text x="573.4" y="635.0" font-size="11.3" fill="#1a1a1a" transform="rotate(45 573.4 635.0)">Ricin resistant</text>
<text x="620.0" y="635.0" font-size="11.3" fill="#1a1a1a" transform="rotate(45 620.0 635.0)">Ricin sensitizing</text>
</svg>
</body></html>
